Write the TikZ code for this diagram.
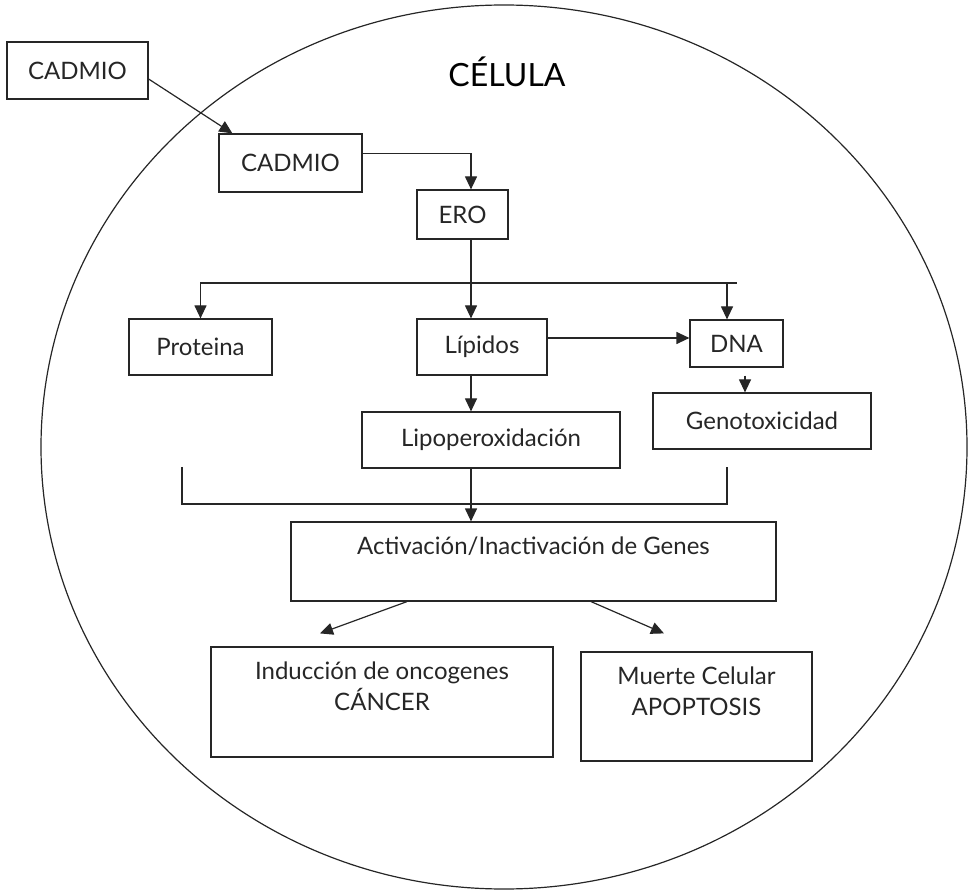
\documentclass[tikz,border=0pt]{standalone}
\usepackage{fontspec}
\setmainfont{Lato}
\usepackage{tikz}
\usetikzlibrary{
    arrows.meta,
    calc
}
\tikzset{
    % Lines
    line color/.style={black!85},
    cell wall/.style={line color,line width=0.6pt},
    %
    % Boxes
    box/.style={draw,line color,line width=0.6pt,rectangle,inner sep=2pt,align=center},
    %
    % Arrows
    arrow tip/.tip={Triangle[length=6.5pt,width=6pt]},
    arr/.style={->,>={arrow tip},line color,line width=0.6pt},
    plain/.style={line color,line width=0.6pt}
}
\tikzstyle{every node}=[font=\fontsize{12}{15.5}\selectfont]

\begin{document}
\begin{tikzpicture}[x=0.5pt,y=-0.5pt]
        \useasboundingbox (0,0) rectangle (968,892);
        \draw[cell wall] (504,447) ellipse [x radius=231.5pt, y radius=221pt];
        \node[font=\fontsize{16}{19}\selectfont] (celula) at (507,72) {CÉLULA};
        % outside and inside
        \node[box,minimum width=70.5pt,minimum height=28.5pt] (cadOut) at (77.5,70.5) {CADMIO};
        \node[box,minimum width=71.5pt,minimum height=29pt] (cadIn) at (290.5,163) {CADMIO};
        \node[box,minimum width=45.5pt,minimum height=24.5pt] (ero) at (462.5,214.5) {ERO};
        % targets
        \node[box,minimum width=71.5pt,minimum height=28pt] (prot) at (200.5,347) {Proteina};
        \node[box,minimum width=65pt,minimum height=28pt] (lip) at (482,347) {Lípidos};
        \node[box,minimum width=46.5pt,minimum height=23.5pt] (dna) at (736.5,343.5) {DNA};
        \node[box,minimum width=109pt,minimum height=28pt] (geno) at (762,421) {Genotoxicidad};
        \node[box,minimum width=129pt,minimum height=28pt] (lipox) at (491,440) {Lipoperoxidación};
        % effects
        \node[box,minimum width=242.5pt,minimum height=39.5pt] (genes) at (533.5,561.5) {Activación/Inactivación de Genes\\ \mbox{}};
        \node[box,minimum width=171pt,minimum height=55pt] (cancer) at (382,702) {Inducción de oncogenes\\CÁNCER\\ \mbox{}};
        \node[box,minimum width=115.5pt,minimum height=54.5pt] (apop) at (696.5,706.5) {Muerte Celular\\APOPTOSIS\\ \mbox{}};
        %
        \coordinate (split) at (471,283);
        \coordinate (joinL) at (182,467);
        \coordinate (joinR) at (727,467);
        \coordinate (join) at (471,504);
        \draw[arr] ([yshift=-4.25pt]cadOut.east) -- ([xshift=7pt]cadIn.north west);
        \draw[arr] ([yshift=4.75pt]cadIn.east) -| (split |- ero.north);
        \draw[plain] (split |- ero.south) -- (split);
        \draw[arr] (split) -| (prot.north);
        \draw[arr] (split) -- (split |- lip.north);
        \draw[plain] (split) -- (split -| dna.north);
        \draw[arr] (joinR |- split) -- (joinR |- dna.north);
        \draw[arr] ([yshift=4.5pt]lip.east) -- ([yshift=4.5pt]lip.east -| dna.west);
        \draw[arr] ([xshift=4.25pt,yshift=-4pt]dna.south) -- ([xshift=4.25pt]dna.south |- geno.north);
        \draw[arr] (split |- lip.south) -- (split |- lipox.north);
        \draw[plain] (joinL) |- (join) -| (joinR);
        \draw[arr] (split |- lipox.south) -- (split |- genes.north);
        \draw[arr] ([xshift=-63.25pt]genes.south) -- ([xshift=-31pt,yshift=6.5pt]cancer.north);
        \draw[arr] ([xshift=28.75pt]genes.south) -- ([xshift=-16.25pt,yshift=9pt]apop.north);
    \end{tikzpicture}
\end{document}
